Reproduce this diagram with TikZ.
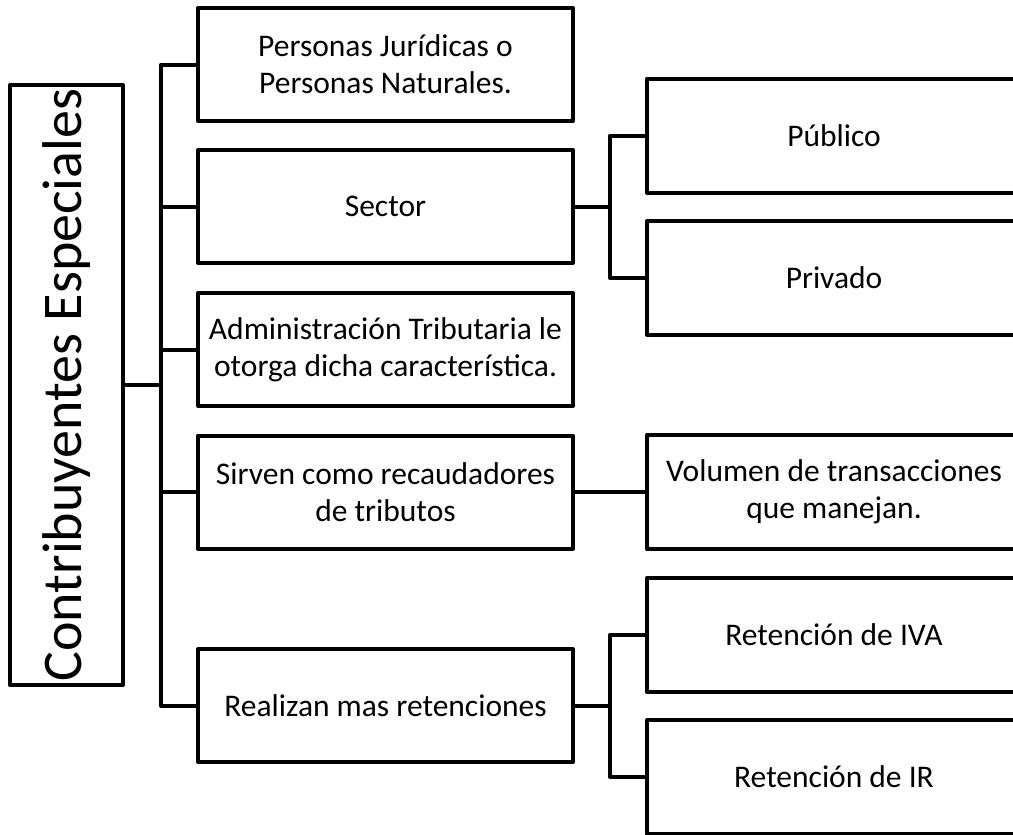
\documentclass[tikz,border=0pt]{standalone}
\usepackage{fontspec}
\setmainfont{Carlito}
\begin{document}
\begin{tikzpicture}[x=1pt,y=-1pt,
  line width=4pt, line join=round,
  box/.style={draw=black, line width=4pt, inner sep=0pt, align=center,
    font=\fontsize{31.5}{37}\selectfont},
  midbox/.style={box, minimum width=375pt, minimum height=113pt},
  rbox/.style={box, minimum width=374pt, minimum height=114pt},
  link/.style={draw=black, line width=4pt}]
\useasboundingbox (0,0) rectangle (1013,835);
\clip (0,0) rectangle (1013,835);
% root
\node[box, rotate=90, minimum width=600pt, minimum height=113pt,
  font=\fontsize{56}{60}\selectfont] (main) at (66.5,385) {Contribuyentes Especiales};
% second column
\node[midbox] (p1) at (385.5,64.5) {Personas Jurídicas o\\Personas Naturales.};
\node[midbox] (p2) at (385.5,206.5) {Sector};
\node[midbox] (p3) at (385.5,349.5) {Administración Tributaria le\\otorga dicha característica.};
\node[midbox] (p4) at (385.5,492) {Sirven como recaudadores\\de tributos};
\node[midbox] (p5) at (385.5,705.5) {Realizan mas retenciones};
% third column
\node[rbox] (pub) at (834,135.5) {Público};
\node[rbox] (priv) at (834,278) {Privado};
\node[rbox] (vol) at (834,492) {Volumen de transacciones\\que manejan.};
\node[rbox] (iva) at (834,635) {Retención de IVA};
\node[rbox] (ir) at (834,777) {Retención de IR};
% main bracket
\coordinate (b0) at (161,385);
\draw[link] (main.south) -- (b0);
\draw[link] (b0) |- (p1.west);
\draw[link] (b0) |- (p2.west);
\draw[link] (b0) |- (p3.west);
\draw[link] (b0) |- (p4.west);
\draw[link] (b0) |- (p5.west);
% sector bracket
\coordinate (b2) at (610,206.5);
\draw[link] (p2.east) -- (b2);
\draw[link] (b2) |- (pub.west);
\draw[link] (b2) |- (priv.west);
% volumen
\draw[link] (p4.east) -- (vol.west);
% retenciones bracket
\coordinate (b5) at (610,705.5);
\draw[link] (p5.east) -- (b5);
\draw[link] (b5) |- (iva.west);
\draw[link] (b5) |- (ir.west);
\end{tikzpicture}
\end{document}
